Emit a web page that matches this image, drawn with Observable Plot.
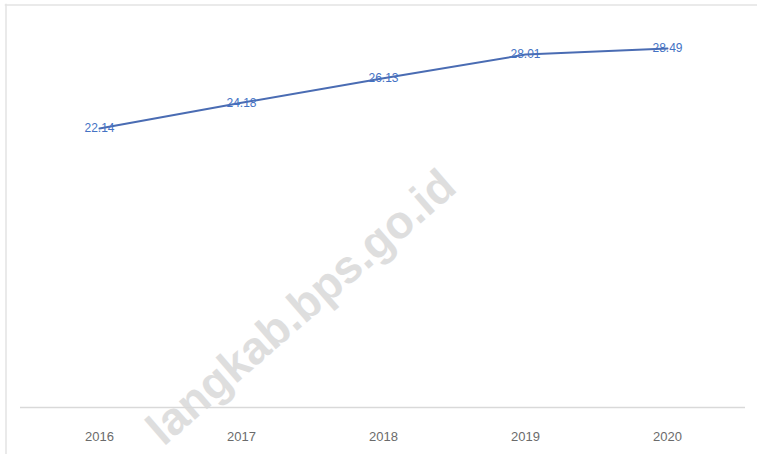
<!DOCTYPE html>
<html><head><meta charset="utf-8">
<script src="https://cdn.jsdelivr.net/npm/d3@7"></script>
<script src="https://cdn.jsdelivr.net/npm/@observablehq/plot@0.6"></script>
<style>html,body{margin:0;background:#fff;overflow:hidden;} svg{display:block}</style>
</head><body><div id="chart"></div>
<script>
const years = ["2016", "2017", "2018", "2019", "2020"];
const values = [22.14, 24.18, 26.13, 28.01, 28.49];
const labels = ["22.14", "24.18", "26.13", "28.01", "28.49"];
const watermark = ["langkab.bps.go.id"];

const data = years.map((y, i) => ({year: y, value: values[i], label: labels[i]}));

const chart = Plot.plot({
  width: 757, height: 454,
  marginTop: 29, marginBottom: 47, marginLeft: 20, marginRight: 12,
  style: {fontFamily: "'Liberation Sans', Arial, sans-serif", background: "#fff", overflow: "hidden"},
  x: {type: "band", domain: years, range: [27, 738], padding: 0, label: null},
  y: {domain: [0, 30], axis: null},
  marks: [
    Plot.frame({anchor: "top", insetTop: -24.5, insetLeft: -15, insetRight: -12, stroke: "#e3e3e3", strokeWidth: 1.5}),
    Plot.frame({anchor: "left", insetLeft: -14.5, insetTop: -25, insetBottom: -47, stroke: "#e3e3e3", strokeWidth: 1.5}),
    Plot.text(watermark, {frameAnchor: "top-left", dx: 281, dy: 278, rotate: -41,
      textAnchor: "middle", lineAnchor: "middle", fontSize: 46, fontWeight: "bold",
      fill: "#dedede", text: d => d}),
    Plot.ruleY([0], {stroke: "#d9d9d9", strokeWidth: 1.5}),
    Plot.axisX({tickSize: 0, tickPadding: 24, fontSize: 13, fill: "#6b6b6b", label: null}),
    Plot.line(data, {x: "year", y: "value", stroke: "#4a6cb3", strokeWidth: 2}),
    Plot.text(data, {x: "year", y: "value", text: "label", fill: "#4472c4", fontSize: 12})
  ]
});

document.getElementById("chart").appendChild(chart);
</script>
</body></html>
